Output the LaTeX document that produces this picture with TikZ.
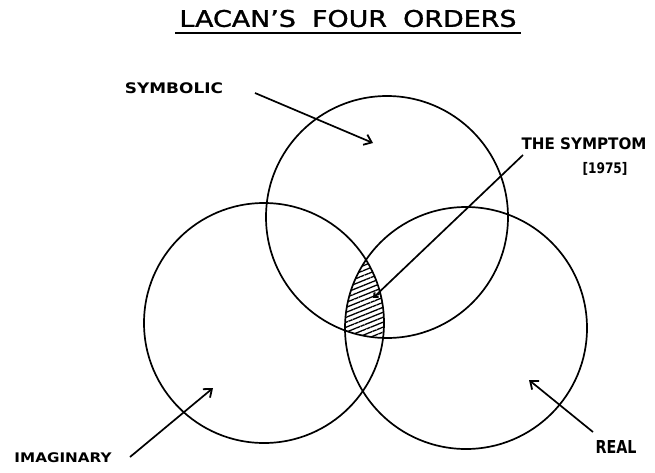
\documentclass[tikz,border=0pt]{standalone}
\usepackage{fontspec}
\setsansfont{DejaVu Sans}
\usetikzlibrary{arrows.meta,patterns.meta}
\newcommand{\lblbox}[3]{\resizebox*{#1}{#2}{\sffamily\bfseries #3}}
\begin{document}
\begin{tikzpicture}[x=1pt,y=-1pt,
  ring/.style={draw, circle, line width=1.7pt, minimum size=242pt, inner sep=0pt},
  lbl/.style={inner sep=0pt},
  arr/.style={line width=1.7pt, -{Straight Barb[length=7pt,width=11pt,line width=1.8pt]}},
  hatchfill/.style={pattern={Lines[angle=22,distance=4.6pt,line width=1.3pt]}}]
\useasboundingbox (0,0) rectangle (655,472);
\fill[white] (0,0) rectangle (655,472);
% hatched triple intersection
\begin{scope}
  \clip (387,217) circle (121pt);
  \clip (264,323) circle (120pt);
  \clip (466,328) circle (121pt);
  \fill[hatchfill] (300,200) rectangle (450,400);
\end{scope}
% circles
\node[ring] (sym) at (387,217) {};
\node[ring, minimum size=240pt] (imag) at (264,323) {};
\node[ring] (real) at (466,328) {};
% title
\node[lbl] (title) at (348,18.5) {\resizebox{337pt}{17pt}{\sffamily\addfontfeatures{FakeBold=1.2}LACAN’S\hspace{0.6em}FOUR\hspace{0.6em}ORDERS}};
\coordinate (ulA) at (175,33);
\coordinate (ulB) at (521,33);
\draw[line width=1.8pt] (ulA) -- (ulB);
% labels
\node[lbl] (symlbl) at (174,88.5) {\lblbox{98pt}{11pt}{SYMBOLIC}};
\node[lbl] (symptlbl) at (584,144) {\lblbox{125pt}{12pt}{THE SYMPTOM}};
\node[lbl] (yearlbl) at (605,169) {\lblbox{45pt}{13pt}{[1975]}};
\node[lbl] (imaglbl) at (63,458) {\lblbox{97pt}{10pt}{IMAGINARY}};
\node[lbl] (reallbl) at (616,446.5) {\lblbox{41pt}{13pt}{REAL}};
% arrows
\coordinate (symA) at (255,93);
\coordinate (symB) at (373,143);
\draw[arr] (symA) -- (symB);
\coordinate (sptA) at (523,155);
\coordinate (sptB) at (373,298);
\draw[arr, -{Straight Barb[length=3.5pt,width=6pt,line width=2pt]}] (sptA) -- (sptB);
\coordinate (imA) at (130,457);
\coordinate (imB) at (213,388);
\draw[arr] (imA) -- (imB);
\coordinate (reA) at (593,432);
\coordinate (reB) at (529,380);
\draw[arr] (reA) -- (reB);
\end{tikzpicture}
\end{document}
